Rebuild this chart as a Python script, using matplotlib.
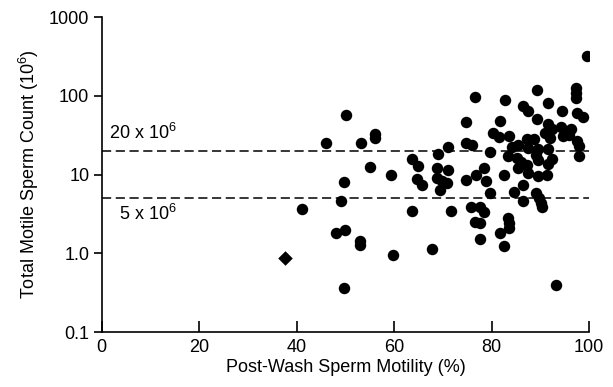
import matplotlib
matplotlib.use("Agg")
import matplotlib.pyplot as plt
import matplotlib.ticker as mticker

plt.rcParams['font.family'] = ['Liberation Sans', 'DejaVu Sans']
plt.rcParams['mathtext.fontset'] = 'custom'
plt.rcParams['mathtext.rm'] = 'Liberation Sans'

# Post-wash motility (%) and total motile sperm count (10^6)
motility = [
    41.1, 46.1, 48.0, 49.0, 50.1, 49.8, 50.0, 49.8, 53.1, 53.0, 53.0, 55.0,
    56.0, 56.0, 59.4, 59.8,
    63.7, 63.7, 64.9, 64.6, 65.8, 67.8, 68.9, 68.7, 68.7, 69.8, 69.5, 71.0,
    71.0, 70.8, 71.6, 74.8, 74.7, 75.9, 74.7,
    76.6, 76.7, 75.8, 76.6, 77.6, 77.6, 78.5, 77.6, 78.5, 78.9, 79.6, 79.7,
    80.3, 81.5, 81.8, 81.7, 82.5, 82.8, 82.5, 83.6, 84.1, 83.4, 83.4, 83.5,
    83.5, 84.5, 85.5, 85.2, 86.1, 85.5, 86.5, 87.4, 86.5, 86.4, 87.5, 87.2,
    88.6, 87.4, 87.2,
    89.4, 89.4, 89.6, 89.2, 89.6, 89.6, 89.2, 89.7, 90.2, 90.4, 91.6, 91.6,
    92.3, 91.0, 91.9, 91.6, 91.3, 91.6, 92.3, 93.2, 94.4, 94.2, 94.6, 96.2,
    95.8, 97.5, 97.3, 97.3, 97.3, 97.5, 98.7, 98.0, 98.0, 99.6,
]
count = [
    3.6, 25, 1.8, 4.6, 57, 8.0, 1.95, 0.36, 25, 1.43, 1.27, 12.4,
    33, 29.5, 9.8, 0.95,
    3.4, 15.8, 12.8, 8.7, 7.3, 1.15, 18, 12.0, 9.1, 8.3, 6.3, 22.3,
    11.3, 7.7, 3.4, 46, 25, 24, 8.6,
    96, 9.9, 3.9, 2.5, 2.4, 3.9, 3.3, 1.5, 12, 8.2, 19.5, 5.8,
    34, 30, 48, 1.8, 1.25, 88, 9.9, 31, 22.5, 17, 2.8, 2.4,
    2.1, 6.0, 23.8, 16, 14.6, 12, 75, 65, 7.4, 4.6, 21.5, 28,
    28, 10.4, 13.3,
    117, 50, 21, 17.7, 15.5, 9.5, 5.8, 5.0, 4.4, 3.9, 81, 44,
    38, 33.6, 29, 21, 9.9, 13.6, 15.7, 0.40, 65, 40, 31, 38,
    32, 27, 125, 108, 95, 60, 53, 23, 17, 320,
]
# single diamond point
diamond_x = [37.7]
diamond_y = [0.87]

thresholds = [20, 5]
threshold_labels = [r'20 x 10$^{\mathregular{6}}$', r'5 x 10$^{\mathregular{6}}$']

fig = plt.figure(figsize=(6.13, 3.87), dpi=100)
ax = fig.add_axes([0.166, 0.142, 0.795, 0.814])

ax.scatter(motility, count, s=68, c='black', marker='o', linewidths=0, zorder=3)
ax.scatter(diamond_x, diamond_y, s=55, c='black', marker='D', linewidths=0, zorder=3)

for t in thresholds:
    ax.axhline(t, color='black', linestyle=(0, (6, 3)), linewidth=1.1, zorder=2)
ax.text(1.5, 25.5, threshold_labels[0], fontsize=13, ha='left', va='bottom')
ax.text(3.5, 4.3, threshold_labels[1], fontsize=13, ha='left', va='top')

ax.set_yscale('log')
ax.set_xlim(0, 100)
ax.set_ylim(0.1, 1000)
ax.set_yticks([0.1, 1, 10, 100, 1000])
ax.yaxis.set_major_formatter(mticker.FixedFormatter(['0.1', '1.0', '10', '100', '1000']))
ax.yaxis.set_minor_locator(mticker.NullLocator())
ax.set_xticks([0, 20, 40, 60, 80, 100])

ax.tick_params(axis='y', direction='out', length=6, width=1.2, labelsize=13, pad=3)
ax.tick_params(axis='x', direction='in', length=8, width=1.2, labelsize=13, pad=5)

for side in ['top', 'right']:
    ax.spines[side].set_visible(False)
for side in ['left', 'bottom']:
    ax.spines[side].set_linewidth(1.2)

ax.set_xlabel('Post-Wash Sperm Motility (%)', fontsize=13, labelpad=2)
ax.set_ylabel(r'Total Motile Sperm Count (10$^{\mathregular{6}}$)', fontsize=13, labelpad=6)

fig.savefig('out.png', dpi=100)
